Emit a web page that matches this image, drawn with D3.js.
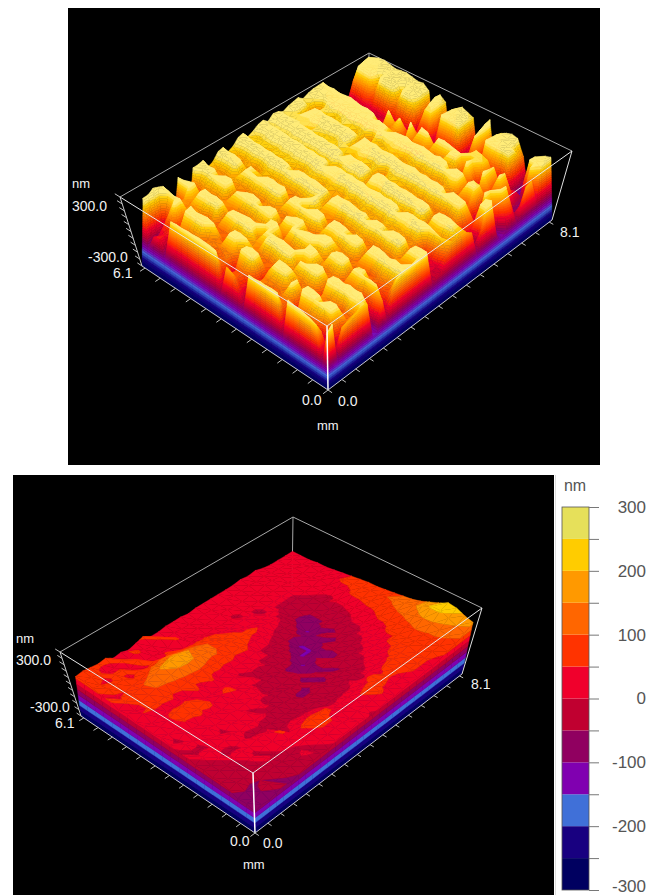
<!DOCTYPE html>
<html>
<head>
<meta charset="utf-8">
<script src="https://cdn.jsdelivr.net/npm/d3@7"></script>
<style>
  html, body { margin: 0; background: #fff; }
  svg { display: block; font-family: "Liberation Sans", Arial, sans-serif; }
</style>
</head>
<body>
<script>
// heights, in tens of nm. rows run along y (0 -> 8.1), columns along x (0 -> 6.1)
const roughHeights = [
  [24,-13,24,26,27,28,28,29,-12,29,29,28,28,27,27,-10,6,18,20,-8,28,29,29,29,28,28,27,27,26,-13,6,2,-12,30],
  [28,-12,14,16,14,12,14,15,-11,14,12,14,15,14,12,-9,2,10,12,-8,12,14,14,13,14,15,14,13,14,-12,4,0,-12,30],
  [-15,-14,-12,-10,12,14,12,12,-10,12,14,12,10,12,14,-8,4,12,10,-6,14,12,10,12,14,12,13,12,16,-10,8,6,-10,33],
  [18,-6,28,28,27,26,28,29,-6,28,16,14,15,16,14,-4,29,28,27,-2,16,15,14,16,14,28,29,28,27,-6,30,10,-4,31],
  [20,4,29,28,18,27,28,28,2,27,16,27,28,27,18,2,27,28,26,8,27,28,14,16,27,28,27,26,28,0,28,27,28,29],
  [20,14,12,14,4,14,12,6,6,14,12,27,28,28,15,6,14,12,14,27,28,27,4,10,14,12,14,16,14,14,16,14,15,18],
  [22,12,14,6,12,14,18,2,12,16,14,16,14,12,16,14,12,16,14,16,14,16,2,14,12,14,16,4,16,18,16,18,-26,-28],
  [26,28,29,27,28,29,28,4,28,29,28,27,16,28,29,28,27,28,16,18,29,28,29,28,27,8,28,29,28,29,14,28,29,28],
  [22,29,28,29,27,28,27,8,29,28,18,16,14,27,28,29,28,28,27,6,28,29,28,27,26,4,27,28,27,28,12,27,12,-25],
  [-13,-12,-10,-6,10,12,12,8,12,14,12,27,28,16,14,12,14,16,28,27,14,12,14,16,14,12,14,16,18,14,10,14,-20,-28],
  [-12,-12,-9,-4,12,10,14,12,16,14,16,28,29,4,14,16,12,14,29,28,12,14,16,14,12,14,16,18,16,14,16,18,16,28],
  [15,26,27,26,28,27,4,28,29,28,14,16,14,27,28,29,28,4,16,14,29,28,27,28,29,28,27,6,28,29,28,27,29,28],
  [-10,-8,-4,12,26,25,2,27,28,26,12,28,29,28,27,14,28,29,28,6,28,27,12,27,28,26,14,4,29,28,14,28,27,29],
  [15,8,10,6,12,14,4,12,14,12,14,29,28,14,12,6,28,27,14,4,16,14,10,14,16,14,16,6,16,14,12,14,16,20],
  [25,12,14,16,12,10,14,16,14,18,16,14,16,14,18,6,14,16,18,16,14,18,16,18,14,16,18,16,18,20,18,16,18,22],
  [26,28,27,28,29,28,27,6,28,29,28,29,27,28,18,28,29,28,27,29,28,16,28,29,28,27,28,29,28,18,29,28,29,28],
  [27,27,28,26,28,29,28,2,27,28,14,28,29,28,4,27,28,16,14,28,27,6,29,28,29,28,16,14,28,16,28,29,28,29],
  [27,14,16,14,12,16,14,4,14,16,18,16,14,12,2,14,16,18,29,16,14,4,14,16,14,16,18,20,16,14,18,16,18,22],
  [28,12,14,18,16,14,16,12,14,16,20,18,16,18,6,16,18,20,28,18,20,18,16,18,20,18,20,22,18,16,20,18,20,24],
  [28,29,28,6,29,28,29,28,27,29,28,29,28,29,30,28,29,8,28,29,28,29,30,29,28,29,30,29,28,29,30,29,30,29],
  [28,28,27,4,28,29,28,16,28,28,16,28,27,28,29,28,28,2,27,28,29,28,29,28,18,28,29,28,29,28,29,28,29,30],
  [-8,-6,-4,2,14,16,18,16,20,18,14,16,18,20,16,18,20,6,18,20,18,16,18,20,16,18,20,22,20,22,20,22,22,24],
  [0,0,2,4,18,16,20,18,20,22,18,20,18,22,20,18,22,18,20,22,20,22,24,22,20,22,24,22,24,22,24,24,22,26],
  [-2,0,4,8,28,29,28,29,28,30,29,30,29,28,30,29,30,28,30,29,30,29,30,29,30,30,29,30,29,30,30,29,30,29],
  [12,24,26,28,29,28,29,28,8,29,30,29,30,29,28,30,29,30,29,30,29,10,30,29,30,29,30,30,29,30,30,30,29,30],
  [20,14,16,18,16,14,18,20,6,18,20,18,20,18,16,20,18,20,18,22,20,8,22,20,22,20,22,24,22,24,22,24,24,26],
  [20,27,28,29,28,8,29,28,29,28,30,29,30,29,28,30,8,30,29,30,29,28,30,29,30,30,29,30,30,29,30,30,29,30],
  [18,26,28,28,27,4,28,29,28,29,29,28,29,28,30,29,6,29,30,29,30,18,29,30,29,30,29,30,29,30,29,30,30,29],
  [18,12,14,16,14,2,16,18,16,14,18,20,18,20,22,20,4,22,20,22,20,14,22,24,22,24,22,20,24,22,26,24,24,26],
  [14,10,12,14,12,6,14,16,18,16,20,18,20,22,24,22,8,24,22,24,26,22,24,26,24,22,24,26,24,26,24,26,26,28],
  [-12,-10,-8,28,29,28,28,29,30,29,28,30,29,30,29,30,29,30,29,30,29,30,8,30,29,30,29,30,30,29,30,10,30,29],
  [10,-4,2,27,28,29,18,28,29,28,29,28,30,29,28,29,30,29,28,30,29,30,4,29,30,29,28,30,29,30,29,6,29,30],
  [28,27,4,-2,12,14,10,16,14,18,14,16,18,20,16,18,20,22,20,18,22,20,2,22,20,22,24,22,20,22,24,4,22,26],
  [30,28,-2,-6,14,2,16,14,20,16,14,18,20,18,22,20,18,22,24,22,20,24,6,24,22,24,26,24,22,26,24,8,26,28],
  [-9,-6,28,-8,27,28,-4,28,29,28,30,29,28,30,29,28,30,29,28,30,29,30,29,30,29,30,29,30,30,29,30,29,30,29],
  [-12,-10,26,-10,25,26,-8,27,28,8,29,30,28,29,30,29,28,30,29,28,6,29,30,28,30,29,30,30,29,30,29,30,30,29],
  [-8,27,6,-8,12,14,-6,14,12,2,14,16,18,16,14,18,20,18,16,20,2,22,20,18,28,29,28,29,30,29,28,29,28,29],
  [5,26,-4,-2,10,28,2,10,28,-4,27,28,10,12,14,16,14,12,16,18,-2,16,14,12,4,5,6,4,6,4,6,5,6,8],
  [-10,-6,-8,27,2,26,-2,4,26,-6,26,27,28,29,28,14,28,29,2,28,-8,26,18,27,3,4,2,4,3,5,4,3,4,5],
  [6,-8,-6,25,-4,25,-4,24,26,26,-2,12,14,16,14,8,14,16,-2,16,-10,14,8,14,2,3,1,2,3,2,1,2,3,2],
  [18,-10,-6,6,-8,8,-6,22,24,25,-4,6,4,10,6,4,8,6,-6,6,-12,4,2,6,0,1,0,2,1,0,1,2,1,0],
  [20,-12,-8,2,-12,2,-8,6,8,6,-8,2,0,2,0,-2,2,4,-10,2,-14,0,-2,2,-4,-2,0,-2,-4,-2,0,-2,-4,-2],
  [-5,26,-10,-6,-20,28,27,28,29,28,-20,26,8,-20,28,27,26,28,-20,26,24,-20,22,29,30,16,30,31,30,14,30,30,29,12],
  [25,28,27,-22,-24,27,29,30,28,27,-22,28,-15,-22,27,29,28,27,-22,28,27,-22,26,30,31,20,29,30,31,22,31,29,30,6],
  [28,27,26,-24,-26,18,29,28,29,26,-24,30,-22,-24,26,28,29,26,-24,27,29,-24,25,29,30,31,30,29,30,31,30,30,31,-10],
  [28,26,12,-26,-27,14,28,29,27,24,-26,31,-26,-26,24,26,28,24,-26,24,28,-26,26,30,29,30,31,30,29,30,31,30,-5,-20]
];

const smoothHeights = [
  [-9,-6,-7,-4,-2,-3,-1,-2,1,-1,1,3,1,3,1,4,2,6,4,7,8,7],
  [-7,-8,-5,-2,-4,-1,-2,1,-1,2,-1,1,3,1,5,2,6,4,7,5,7,8],
  [-8,-5,-6,-3,-1,-2,1,2,-1,1,3,1,4,2,6,7,8,5,7,4,6,7],
  [-6,-3,-5,-1,-2,1,-1,1,3,1,2,6,7,3,6,8,9,6,7,6,3,6],
  [-4,-6,-2,-1,1,2,-1,2,1,3,1,7,8,2,7,10,11,7,4,6,3,7],
  [-7,-3,-2,1,-1,1,2,3,-1,1,4,6,8,3,5,11,13,9,6,3,6,3],
  [-5,-2,-3,-1,2,3,-1,1,3,1,2,8,5,2,6,13,16,11,4,7,3,4],
  [-3,-1,-2,2,1,3,-2,2,1,3,1,3,2,6,7,15,17,12,6,2,6,2],
  [-2,1,-1,3,6,1,-1,1,3,1,2,4,1,3,8,16,18,12,3,2,3,4],
  [-1,-2,2,3,-1,-2,-2,1,-1,2,1,7,2,6,9,15,16,10,6,1,2,6],
  [-2,2,3,6,2,-1,-3,-1,1,2,3,2,1,2,8,13,14,9,2,1,6,2],
  [1,2,6,7,3,-2,-3,-1,-2,1,2,1,3,3,7,12,12,8,1,6,1,2],
  [2,3,6,7,2,-2,-4,-2,-1,-2,-1,2,-1,2,8,10,10,7,2,1,2,3],
  [1,3,4,6,1,-3,-4,-3,-1,-3,-1,-2,1,2,6,9,9,6,3,1,1,3],
  [3,1,3,2,-1,-2,-4,-6,-3,-4,-1,-3,1,2,7,8,6,5,1,2,1,3],
  [1,3,2,1,-1,-3,-4,-6,-4,-3,-2,-1,-1,3,5,7,6,3,2,1,1,2],
  [-1,2,3,2,-1,-4,-2,-4,-6,-4,-6,-3,-1,-1,4,6,4,2,1,1,2,3],
  [1,3,6,3,-1,-2,-4,-6,-4,-11,-6,-4,-2,-1,3,6,3,2,1,2,1,3],
  [2,6,7,4,1,-1,-3,-4,-6,-6,-11,-6,-4,-3,1,4,2,2,-1,2,2,3],
  [1,4,7,6,-1,-1,-2,-6,-3,-4,-7,-11,-6,-4,-1,3,2,1,1,1,3,3],
  [2,3,6,4,1,-1,-3,-2,-4,-11,-6,-11,-11,-4,-2,1,1,-1,1,1,2,3],
  [3,3,7,6,2,1,-1,-1,-3,-4,-4,-7,-6,-6,-3,-1,1,1,1,2,2,3],
  [2,6,7,7,4,2,1,-1,-2,-3,-6,-4,-7,-11,-6,-4,-1,1,2,1,3,4],
  [3,6,8,7,6,3,2,1,-1,-1,-4,-6,-4,-6,-6,-3,-1,1,2,3,2,3],
  [3,6,7,9,7,6,3,2,1,-1,-1,-3,-4,-4,-4,-2,-1,1,2,3,3,4],
  [4,7,8,8,7,6,6,4,3,1,1,-1,-2,-3,-1,-1,1,1,1,2,2,2],
  [6,7,9,9,10,8,7,6,6,4,3,2,1,1,-1,1,1,2,1,1,1,1],
  [8,11,12,14,15,13,11,10,9,7,7,6,6,4,3,2,3,1,1,2,1,1],
  [12,15,18,21,21,17,14,12,11,10,8,8,7,6,6,4,3,2,3,1,2,1],
  [17,19,22,23,19,16,13,11,10,9,8,7,7,6,5,4,3,2,2,1,1,1]
];

// colour bar, bottom band first
const legendEdges = [-300,-250,-200,-150,-100,-50,0,50,100,150,200,250,300];
const legendColors = ["#000060","#180080","#4070d8","#8000b0","#900060","#c00030","#f0002c","#ff3300","#ff6600","#ff9900","#ffcc00","#e6e05a"];
const legendLabels = [300,200,100,0,-100,-200,-300];

const width = 657, height = 895;

const svg = d3.select("body").append("svg").attr("width", width).attr("height", height);

const defs = svg.append("defs");
[["softTop", 0.6], ["softBottom", 0.5]].forEach(f => {
  defs.append("filter").attr("id", f[0])
    .attr("x", "-5%").attr("y", "-5%").attr("width", "110%").attr("height", "110%")
    .append("feGaussianBlur").attr("stdDeviation", f[1]);
});

const bandScale = d3.scaleThreshold().domain(legendEdges.slice(1, -1)).range(legendColors);
// the rough surface was rendered with a continuous ramp, paler at the top
const fineScale = d3.scaleLinear()
  .domain(legendColors.map((c, i) => i === 11 ? 262 : (legendEdges[i] + legendEdges[i + 1]) / 2))
  .range(legendColors.slice(0, -1).concat("#ffec78"))
  .clamp(true);

function lerp(a, b, t) { return a + (b - a) * t; }

function bilinear(c, u, v) {
  const out = [];
  for (let k = 0; k < 2; k++) {
    const near = lerp(c.front[k], c.left[k], u);
    const far = lerp(c.right[k], c.back[k], u);
    out.push(lerp(near, far, v));
  }
  return out;
}

function makeProjection(base, top) {
  const w = d3.scaleLinear().domain([-300, 300]).range([0, 1]);
  return function (u, v, z) {
    const a = bilinear(base, u, v), b = bilinear(top, u, v);
    return [lerp(a[0], b[0], w(z)), lerp(a[1], b[1], w(z))];
  };
}

// keeps the part of a polygon of [u, v, z] corners that lies on the wanted side of a height
function clipZ(poly, level, keepAbove) {
  const out = [];
  poly.forEach((p, k) => {
    const q = poly[(k + 1) % poly.length];
    const pIn = keepAbove ? p[2] >= level : p[2] <= level;
    const qIn = keepAbove ? q[2] >= level : q[2] <= level;
    if (pIn) out.push(p);
    if (pIn !== qIn) {
      const t = (level - p[2]) / (q[2] - p[2]);
      out.push([lerp(p[0], q[0], t), lerp(p[1], q[1], t), level]);
    }
  });
  return out;
}

function drawSurface(g, heights, project, stepNm, colorOf) {
  const cols = d3.min(heights, r => r.length);
  const rows = heights.length;
  const uScale = d3.scaleLinear().domain([0, cols - 1]).range([0, 1]);
  const vScale = d3.scaleLinear().domain([0, rows - 1]).range([0, 1]);
  const node = (i, j) => [uScale(j), vScale(i), heights[i][j] * 10];
  const polys = [];

  function addBands(poly) {
    const zs = poly.map(p => p[2]);
    let lo = Math.floor(d3.min(zs) / stepNm) * stepNm;
    const top = d3.max(zs);
    // flat triangles sitting on a band edge still need one pass
    do {
      const piece = clipZ(clipZ(poly, lo, true), lo + stepNm, false);
      if (piece.length > 2) {
        polys.push({ pts: piece.map(p => project(p[0], p[1], p[2])), fill: colorOf(lo + stepNm / 2) });
      }
      lo += stepNm;
    } while (lo < top);
  }

  // back to front so that nearer triangles cover farther ones
  for (let i = rows - 2; i >= 0; i--) {
    for (let j = cols - 2; j >= 0; j--) {
      addBands([node(i + 1, j + 1), node(i, j + 1), node(i + 1, j)]);
      addBands([node(i, j), node(i, j + 1), node(i + 1, j)]);
    }
  }

  // the two side walls facing the viewer go last
  const floor = p => [p[0], p[1], -300];
  for (let j = cols - 2; j >= 0; j--) {
    const a = node(0, j), b = node(0, j + 1);
    addBands([floor(a), floor(b), b, a]);
  }
  for (let i = rows - 2; i >= 0; i--) {
    const a = node(i, 0), b = node(i + 1, 0);
    addBands([floor(a), floor(b), b, a]);
  }

  g.selectAll("polygon").data(polys).join("polygon")
    .attr("points", d => d.pts.map(p => p[0].toFixed(1) + "," + p[1].toFixed(1)).join(" "))
    .attr("fill", d => d.fill)
    .attr("stroke", d => d.fill)
    .attr("stroke-width", 0.4);
}

function line(g, a, b, color, w) {
  g.append("line").attr("x1", a[0]).attr("y1", a[1]).attr("x2", b[0]).attr("y2", b[1])
    .attr("stroke", color).attr("stroke-width", w);
}

function drawPanel(cfg) {
  svg.append("rect").attr("x", cfg.rect[0]).attr("y", cfg.rect[1]).attr("width", cfg.rect[2]).attr("height", cfg.rect[3]).attr("fill", "#000");

  const box = makeProjection(cfg.base, cfg.boxTop);
  const surf = makeProjection(cfg.base, cfg.surfTop);

  const back = svg.append("g");
  line(back, cfg.boxTop.left, cfg.boxTop.back, "#a8a8a8", 1);
  line(back, cfg.boxTop.back, cfg.boxTop.right, "#a8a8a8", 1);
  line(back, cfg.boxTop.back, cfg.base.back, "#a8a8a8", 1);

  const plate = [cfg.base.front, cfg.base.left, cfg.base.back, cfg.base.right];
  svg.append("polygon").attr("points", plate.map(p => p.join(",")).join(" ")).attr("fill", "#000058");

  drawSurface(svg.append("g").attr("filter", "url(#" + cfg.filter + ")"), cfg.heights, surf, cfg.stepNm, cfg.color);

  const front = svg.append("g");
  line(front, cfg.boxTop.left, cfg.boxTop.front, "#e8e8e8", 1);
  line(front, cfg.boxTop.front, cfg.boxTop.right, "#e8e8e8", 1);
  line(front, cfg.boxTop.front, cfg.base.front, "#ffffff", 1.5);
  line(front, cfg.boxTop.left, cfg.base.left, "#c8c8c8", 1);
  line(front, cfg.boxTop.right, cfg.base.right, "#e0e0e0", 1);
  line(front, cfg.base.front, cfg.base.left, "#c8c8c8", 1);
  line(front, cfg.base.front, cfg.base.right, "#c8c8c8", 1);

  // axis ticks stepped along the base and the left upright
  const xAxis = d3.scaleLinear().domain([0, 6.1]).range([0, 1]);
  const yAxis = d3.scaleLinear().domain([0, 8.1]).range([0, 1]);
  xAxis.ticks(12).forEach(t => line(front, box(xAxis(t), 0, -300), box(xAxis(t), -0.022, -300), "#c0c0c0", 1));
  yAxis.ticks(16).forEach(t => line(front, box(0, yAxis(t), -300), box(-0.022, yAxis(t), -300), "#c0c0c0", 1));
  d3.range(-300, 301, 60).forEach(z => line(front, box(1, 0, z), box(1.025, 0, z), "#c0c0c0", 1));

  svg.append("g").selectAll("text").data(cfg.labels).join("text")
    .attr("x", d => d.x).attr("y", d => d.y).attr("dy", "0.35em")
    .attr("font-size", d => d.size).attr("fill", "#f2f2f2")
    .text(d => d.text);
}

drawPanel({
  rect: [68, 8, 532, 457],
  heights: roughHeights,
  stepNm: 20,
  color: fineScale,
  filter: "softTop",
  base: { front: [328, 390], left: [142, 266], right: [552, 220], back: [368, 118] },
  boxTop: { front: [327, 326], left: [120, 197], right: [572, 151], back: [369, 53] },
  surfTop: { front: [327, 326], left: [143, 198], right: [551, 155], back: [368, 52] },
  labels: [
    { text: "nm", x: 72, y: 183, size: 13 },
    { text: "300.0", x: 72, y: 206, size: 14 },
    { text: "-300.0", x: 88, y: 257, size: 14 },
    { text: "6.1", x: 113, y: 273, size: 14 },
    { text: "0.0", x: 302, y: 400, size: 14 },
    { text: "0.0", x: 338, y: 401, size: 14 },
    { text: "mm", x: 317, y: 425, size: 13 },
    { text: "8.1", x: 560, y: 232, size: 14 }
  ]
});

drawPanel({
  rect: [13, 475, 541, 420],
  heights: smoothHeights,
  stepNm: 50,
  color: bandScale,
  filter: "softBottom",
  base: { front: [255, 833], left: [81, 716], right: [462, 674], back: [292, 588] },
  boxTop: { front: [253, 773], left: [60, 652], right: [482, 608], back: [293, 517] },
  surfTop: { front: [254, 773], left: [72, 652], right: [476, 608], back: [293, 517] },
  labels: [
    { text: "nm", x: 16, y: 638, size: 13 },
    { text: "300.0", x: 16, y: 660, size: 14 },
    { text: "-300.0", x: 30, y: 707, size: 14 },
    { text: "6.1", x: 55, y: 723, size: 14 },
    { text: "0.0", x: 230, y: 841, size: 14 },
    { text: "0.0", x: 263, y: 843, size: 14 },
    { text: "mm", x: 243, y: 864, size: 13 },
    { text: "8.1", x: 471, y: 684, size: 14 }
  ]
});

// colour bar on the right
const legendY = d3.scaleLinear().domain([-300, 300]).range([890, 507]);
const legend = svg.append("g");
legend.selectAll("rect").data(legendColors).join("rect")
  .attr("x", 562).attr("width", 27)
  .attr("y", (d, i) => legendY(legendEdges[i + 1]))
  .attr("height", (d, i) => legendY(legendEdges[i]) - legendY(legendEdges[i + 1]))
  .attr("fill", d => d);
legend.append("rect").attr("x", 562).attr("y", 507).attr("width", 27).attr("height", 383)
  .attr("fill", "none").attr("stroke", "#555").attr("stroke-width", 0.8);

const legendAxis = svg.append("g").attr("transform", "translate(589,0)")
  .call(d3.axisRight(legendY).tickValues(legendEdges).tickSize(10)
    .tickFormat(d => legendLabels.includes(d) ? String(d) : ""));
legendAxis.select(".domain").remove();
legendAxis.selectAll("line").attr("stroke", "#777");
legendAxis.selectAll("text").attr("x", 57).attr("text-anchor", "end")
  .attr("font-family", "inherit").attr("font-size", 17).attr("fill", "#555")
  .attr("dy", d => d === -300 ? "0.1em" : "0.32em");

svg.append("text").attr("x", 575).attr("y", 485).attr("dy", "0.35em").attr("text-anchor", "middle")
  .attr("font-size", 16).attr("fill", "#555").text("nm");
svg.append("line").attr("x1", 555.5).attr("x2", 555.5).attr("y1", 475).attr("y2", 895).attr("stroke", "#ddd");
</script>
</body>
</html>
